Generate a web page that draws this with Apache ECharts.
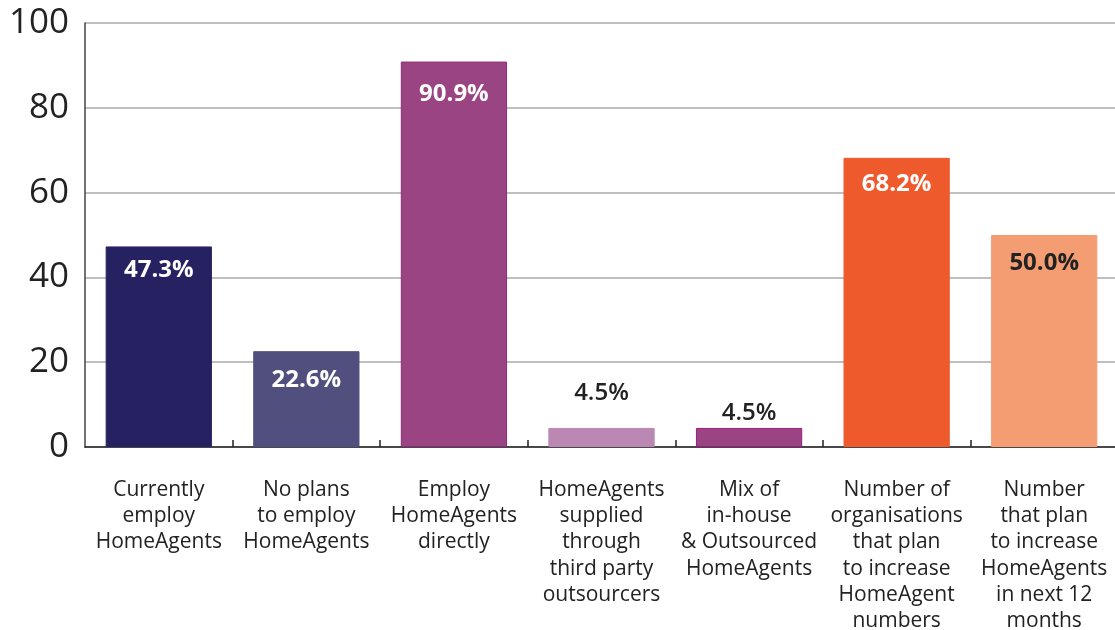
<!DOCTYPE html>
<html><head><meta charset="utf-8">
<script src="https://cdn.jsdelivr.net/npm/echarts@6/dist/echarts.min.js"></script>
<style>html,body{margin:0;padding:0;background:#fff}#c{width:1115px;height:630px}</style>
</head><body><div id="c"></div>
<script>
var categories = [
  "Currently\nemploy\nHomeAgents",
  "No plans\nto employ\nHomeAgents",
  "Employ\nHomeAgents\ndirectly",
  "HomeAgents\nsupplied\nthrough\nthird party\noutsourcers",
  "Mix of\nin-house\n& Outsourced\nHomeAgents",
  "Number of\norganisations\nthat plan\nto increase\nHomeAgent\nnumbers",
  "Number\nthat plan\nto increase\nHomeAgents\nin next 12\nmonths"
];
var values = [47.3, 22.6, 90.9, 4.5, 4.5, 68.2, 50.0];
var labels = ["47.3%", "22.6%", "90.9%", "4.5%", "4.5%", "68.2%", "50.0%"];
var yTicks = [0, 20, 40, 60, 80, 100];

var colors = ["#262262", "#514f7e", "#9b4483", "#bb87b3", "#9b4483", "#ef5a2d", "#f49c72"];
var borders = ["#262262", "#514f7e", "#8e2a7c", "#bb87b3", "#a0197f", "#ef5a2d", "#f49c72"];
var labelCfg = [
  {position: "insideTop", distance: 11.5, color: "#fff"},
  {position: "insideTop", distance: 16.5, color: "#fff"},
  {position: "insideTop", distance: 20.5, color: "#fff"},
  {position: "top", distance: 22.5, color: "#222"},
  {position: "top", distance: 3, color: "#222"},
  {position: "insideTop", distance: 14.5, color: "#fff"},
  {position: "insideTop", distance: 16.5, color: "#222"}
];

var data = values.map(function (v, i) {
  return {
    value: v,
    itemStyle: {color: colors[i], borderColor: borders[i], borderWidth: 1},
    label: {
      show: true,
      position: labelCfg[i].position,
      distance: labelCfg[i].distance,
      color: labelCfg[i].color,
      formatter: labels[i],
      fontSize: 24,
      fontWeight: (i === 3 || i === 4) ? 600 : "bold",
      fontFamily: "Open Sans"
    }
  };
});

var chart = echarts.init(document.getElementById("c"), null, {renderer: "canvas"});
chart.setOption({
  animation: false,
  backgroundColor: "#fff",
  grid: {left: 85, top: 23, width: 1033, height: 424, containLabel: false, outerBoundsMode: "none"},
  xAxis: {
    type: "category",
    data: categories,
    axisLine: {lineStyle: {color: "#222", width: 1.5}},
    axisTick: {show: true, inside: true, length: 7, alignWithLabel: false, lineStyle: {color: "#222", width: 1.5},
      interval: function (i) { return i > 0; }},
    axisLabel: {color: "#222", fontSize: 21, lineHeight: 26.2, margin: 30, fontFamily: "Open Sans", interval: 0,
      verticalAlign: "top"}
  },
  yAxis: {
    type: "value",
    min: 0, max: 100, interval: 20,
    axisLine: {show: true, lineStyle: {color: "#444", width: 1.5}},
    axisTick: {show: false},
    splitLine: {show: true, lineStyle: {color: "#aaa", width: 1.5}},
    axisLabel: {color: "#222", fontSize: 35, margin: 16, fontFamily: "Open Sans",
      formatter: function (v) { return yTicks.indexOf(v) >= 0 ? String(v) : ""; }}
  },
  series: [{
    type: "bar",
    data: data,
    barWidth: "72%"
  }]
});
</script></body></html>
